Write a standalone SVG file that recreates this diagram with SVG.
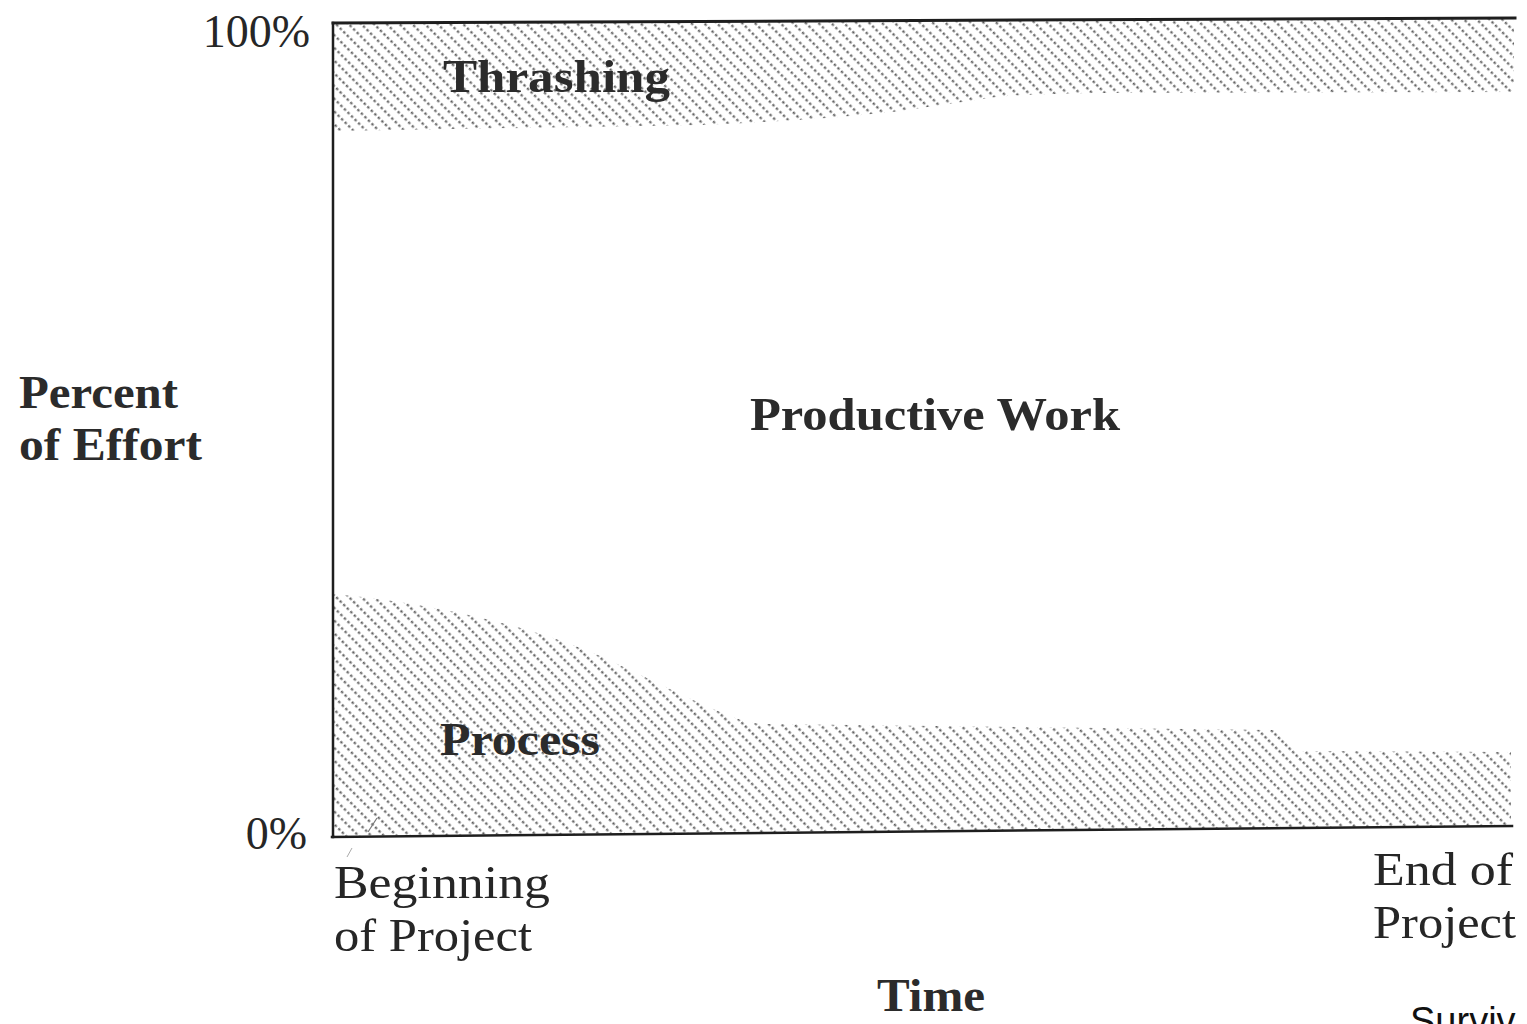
<svg xmlns="http://www.w3.org/2000/svg" width="1527" height="1024" viewBox="0 0 1527 1024">
  <style>
    .serif { font-family: "Liberation Serif", "DejaVu Serif", serif; fill: #262626; }
    .reg { font-size: 46px; font-weight: normal; }
    .bold { font-size: 46px; font-weight: bold; fill: #2b2b2b; }
    .axis { stroke: #1e1e1e; fill: none; stroke-linecap: square; }
    .band { stroke: none; }
  </style>
  <defs>
    <pattern id="hatch" patternUnits="userSpaceOnUse" width="10" height="9" patternTransform="rotate(45)">
      <line x1="0" y1="4.5" x2="10" y2="4.5" stroke="#5c5c5c" stroke-width="2" stroke-dasharray="2.6 2.4"/>
    </pattern>
  </defs>
  <rect x="0" y="0" width="1527" height="1024" fill="#ffffff"/>

  <g id="thrashing-band">
    <path class="band" fill="url(#hatch)" d="M333,23 L1514,18 L1514,92 L1100,93 C1040,94 1010,95 990,98 C960,102 930,107 900,111 C860,116 780,122 700,125 L333,131 Z"/>
    <text class="serif bold" x="443" y="92" textLength="227" lengthAdjust="spacingAndGlyphs">Thrashing</text>
  </g>

  <g id="process-band">
    <path class="band" fill="url(#hatch)" d="M333,594 C380,598 420,605 460,613 C520,626 570,642 611,661 C650,679 690,700 730,716 C745,722 755,724 770,724 L1275,730 L1300,751 L1511,752 L1511,826 L333,836 Z"/>
    <text class="serif bold" x="440" y="755" textLength="160" lengthAdjust="spacingAndGlyphs">Process</text>
  </g>

  <g id="productive-work">
    <text class="serif bold" x="750" y="430" textLength="370" lengthAdjust="spacingAndGlyphs">Productive Work</text>
  </g>

  <g id="axes">
    <line class="axis" x1="333" y1="23" x2="1515" y2="18" stroke-width="3"/>
    <line class="axis" x1="333" y1="23" x2="333" y2="837" stroke-width="2.5"/>
    <line class="axis" x1="332" y1="837" x2="1512" y2="826" stroke-width="2.5"/>
    <line x1="377" y1="818" x2="368" y2="832" stroke="#777" stroke-width="1.2"/>
    <line x1="352" y1="848" x2="347" y2="857" stroke="#aaa" stroke-width="1"/>
  </g>

  <g id="y-axis-labels">
    <text class="serif reg" x="310" y="47" text-anchor="end">100%</text>
    <text class="serif reg" x="307" y="849" text-anchor="end">0%</text>
    <text class="serif bold" x="19" y="408" textLength="159" lengthAdjust="spacingAndGlyphs">Percent</text>
    <text class="serif bold" x="19" y="460" textLength="183" lengthAdjust="spacingAndGlyphs">of Effort</text>
  </g>

  <g id="x-axis-labels">
    <text class="serif reg" x="334" y="898" textLength="216" lengthAdjust="spacingAndGlyphs">Beginning</text>
    <text class="serif reg" x="334" y="951" textLength="198" lengthAdjust="spacingAndGlyphs">of Project</text>
    <text class="serif reg" x="1373" y="885" textLength="140" lengthAdjust="spacingAndGlyphs">End of</text>
    <text class="serif reg" x="1373" y="938" textLength="143" lengthAdjust="spacingAndGlyphs">Project</text>
    <text class="serif bold" x="877" y="1011" textLength="108" lengthAdjust="spacingAndGlyphs">Time</text>
  </g>

  <g id="caption">
    <text x="1410" y="1034" font-family="Liberation Sans, Arial, sans-serif" font-size="38" fill="#111">Surviv</text>
  </g>
</svg>
